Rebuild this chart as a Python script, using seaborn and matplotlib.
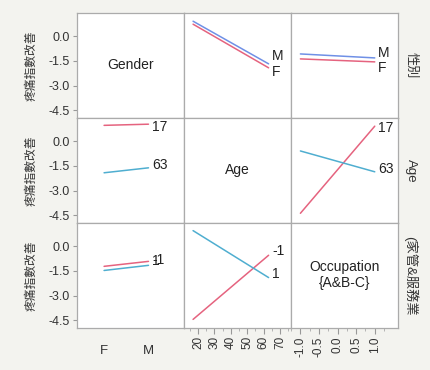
import numpy as np
import pandas as pd
import matplotlib.pyplot as plt
import seaborn as sns

# factor levels
gender_levels = ['F', 'M']
age_levels = [17, 63]
occ_levels = [-1, 1]

# row 1: traced by Gender
g_age_M = [0.90, -1.68]
g_age_F = [0.72, -1.92]
g_occ_M = [-1.08, -1.32]
g_occ_F = [-1.38, -1.56]
# row 2: traced by Age
a_gen_17 = [0.95, 1.02]
a_gen_63 = [-1.92, -1.62]
a_occ_17 = [-4.37, 0.90]
a_occ_63 = [-0.60, -1.86]
# row 3: traced by Occupation
o_gen_m1 = [-1.23, -0.93]
o_gen_p1 = [-1.48, -1.17]
o_age_m1 = [-4.44, -0.56]
o_age_p1 = [0.93, -1.91]

row_names = ['性別', 'Age', '(家管&服務業']
diag_names = ['Gender', 'Age', 'Occupation\n{A&B-C}']
y_title = '疼痛指數改善'

sns.set_style('white')
plt.rcParams['font.family'] = ['Liberation Sans', 'Noto Sans CJK TC', 'DejaVu Sans']

RED = '#e5637f'
BLUE = '#6f90e6'
TEAL = '#4faed0'

gx = list(range(len(gender_levels)))
panels = {
    (0, 1): (age_levels, [('M', g_age_M, BLUE, 8), ('F', g_age_F, RED, -4)]),
    (0, 2): (occ_levels, [('M', g_occ_M, BLUE, 5), ('F', g_occ_F, RED, -6)]),
    (1, 0): (gx, [('17', a_gen_17, RED, -3), ('63', a_gen_63, TEAL, 3)]),
    (1, 2): (occ_levels, [('17', a_occ_17, RED, -2), ('63', a_occ_63, TEAL, 3)]),
    (2, 0): (gx, [('-1', o_gen_m1, RED, 1), ('1', o_gen_p1, TEAL, 4)]),
    (2, 1): (age_levels, [('-1', o_age_m1, RED, 4), ('1', o_age_p1, TEAL, 4)]),
}

xlims = [(-0.61, 1.8), (11.5, 76.7), (-1.18, 1.63)]
ylim = (-4.95, 1.4)

fig, axes = plt.subplots(3, 3, figsize=(4.3, 3.7), dpi=100)
fig.patch.set_facecolor('#f3f3ef')
fig.subplots_adjust(left=0.179, right=0.926, top=0.965, bottom=0.114,
                    wspace=0, hspace=0)

for r in range(3):
    for c in range(3):
        ax = axes[r, c]
        ax.set_facecolor('white')
        ax.set_xlim(*xlims[c])
        ax.set_ylim(*ylim)
        for s in ax.spines.values():
            s.set_color('#ababab')
            s.set_linewidth(0.9)
        if r == c:
            ax.text(0.5, 0.5, diag_names[r], transform=ax.transAxes,
                    ha='center', va='center', fontsize=10, color='#222222')
        else:
            xs, traces = panels[(r, c)]
            rows = []
            for lab, ys, col, dy in traces:
                for x, y in zip(xs, ys):
                    rows.append({'x': x, 'y': y, 'trace': lab})
            df = pd.DataFrame(rows)
            pal = {lab: col for lab, ys, col, dy in traces}
            sns.lineplot(data=df, x='x', y='y', hue='trace', palette=pal,
                         ax=ax, legend=False, linewidth=1.1)
            for lab, ys, col, dy in traces:
                ax.annotate(lab, xy=(xs[-1], ys[-1]), xytext=(2.5, dy * 0.72),
                            textcoords='offset points', ha='left', va='center',
                            fontsize=10, color='#222222', clip_on=True)
        ax.set_xlabel('')
        ax.set_ylabel('')
        # y ticks
        ax.set_yticks([0.0, -1.5, -3.0, -4.5])
        if c == 0:
            ax.set_yticklabels(['0.0', '-1.5', '-3.0', '-4.5'])
            ax.tick_params(axis='y', left=True, length=3, color='#999999',
                           labelsize=9, labelcolor='#333333', pad=2)
        else:
            ax.tick_params(axis='y', left=False, labelleft=False)
        # x ticks
        if c == 0:
            ax.set_xticks(gx)
            ax.set_xticklabels(gender_levels)
        elif c == 1:
            ax.set_xticks([20, 30, 40, 50, 60, 70])
            ax.set_xticks(np.arange(15, 76, 5), minor=True)
        else:
            ax.set_xticks([-1.0, -0.5, 0.0, 0.5, 1.0])
            ax.set_xticklabels(['-1.0', '-0.5', '0.0', '0.5', '1.0'])
            ax.set_xticks(np.arange(-1.25, 1.3, 0.25), minor=True)
        if r == 2:
            if c == 0:
                ax.tick_params(axis='x', bottom=False, labelsize=9.5,
                               labelcolor='#333333', pad=9)
            else:
                ax.tick_params(axis='x', which='major', bottom=True, length=4,
                               color='#999999', labelsize=8.5,
                               labelcolor='#333333', labelrotation=90, pad=2)
                ax.tick_params(axis='x', which='minor', bottom=True, length=2,
                               color='#aaaaaa')
        else:
            ax.tick_params(axis='x', which='both', bottom=False,
                           labelbottom=False)

# row titles
for r in range(3):
    pos = axes[r, 0].get_position()
    yc = (pos.y0 + pos.y1) / 2
    fig.text(0.072, yc, y_title, rotation=90, ha='center', va='center',
             fontsize=8.5, color='#333333',
             family=['Noto Sans CJK TC', 'DejaVu Sans'])
    fig.text(0.955, yc, row_names[r], rotation=270, ha='center', va='center',
             fontsize=9.5, color='#333333',
             family=['Liberation Sans', 'Noto Sans CJK TC', 'DejaVu Sans'])

plt.savefig('out.png', dpi=100, facecolor=fig.get_facecolor())
